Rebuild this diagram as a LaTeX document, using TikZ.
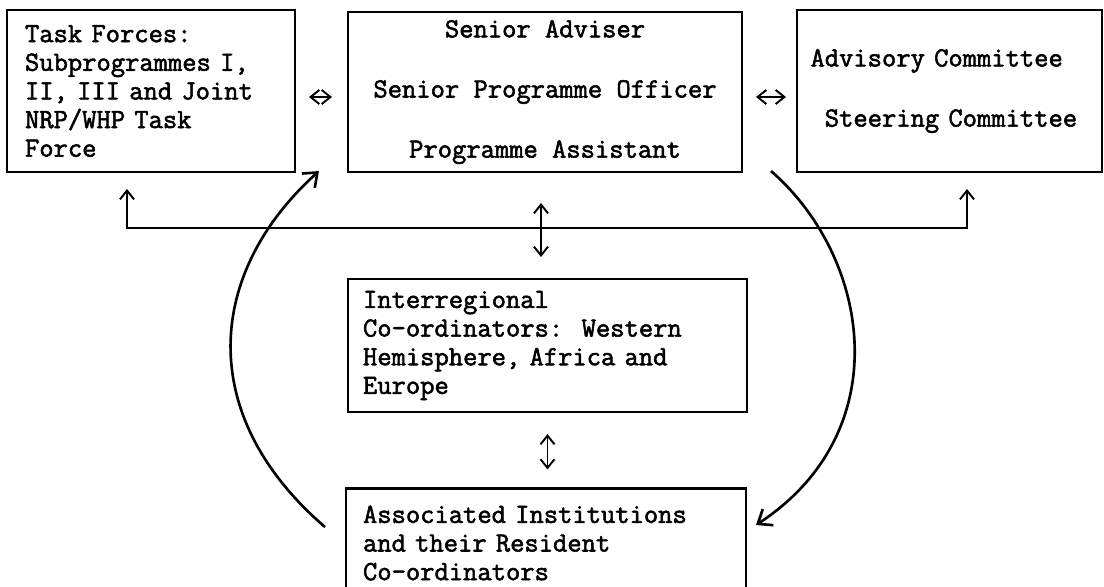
\documentclass[tikz,border=0pt]{standalone}
\usepackage{fontspec}
\setmonofont{Latin Modern Mono}[AutoFakeBold=2]
\usepackage{tikz}
\usetikzlibrary{arrows.meta,positioning}

\begin{document}
\begin{tikzpicture}[x=0.02cm,y=-0.02cm,
    box/.style={draw,line width=1.2pt,inner sep=0pt,
      font=\ttfamily\bfseries\fontsize{15.8}{16.3}\selectfont},
    link/.style={line width=1.1pt,{Straight Barb[length=5pt,width=8pt]}-{Straight Barb[length=5pt,width=8pt]}},
    loop/.style={line width=1.5pt,-{Straight Barb[length=7pt,width=11pt]}}]
      \useasboundingbox (0,0) rectangle (1104,586);
      \clip (0,0) rectangle (1104,586);
      \node[box,minimum width=5.76cm,minimum height=3.24cm,text width=5.04cm,align=left] (tasks) at (151,91)
        {Task Forces:\\Subprogrammes I,\\II, III and Joint\\NRP/WHP Task\\Force};
      \node[box,minimum width=7.88cm,minimum height=3.2cm,align=center] (staff) at (545,92)
        {Senior Adviser\\[0.63cm]Senior Programme Officer\\[0.63cm]Programme Assistant};
      \node[box,minimum width=6.1cm,minimum height=3.24cm,text width=5.56cm,align=left] (cttee) at (949.5,91)
        {Advisory Committee\\[0.63cm]\hphantom{S}Steering Committee};
      \node[box,minimum width=7.98cm,minimum height=2.66cm,text width=7.38cm,align=left] (interreg) at (547.5,345.5)
        {Interregional\\Co-ordinators:\ \ Western\\Hemisphere, Africa and\\Europe};
      \node[box,minimum width=8cm,minimum height=2.18cm,text width=7.32cm,align=left] (inst) at (546,543)
        {Associated Institutions\\and their Resident\\Co-ordinators};
      \coordinate (lvl) at (0,97);
      \coordinate (busL) at (127,228);
      \coordinate (busM) at (541,228);
      \coordinate (busR) at (967,228);
      \draw[link,shorten <=0.26cm,shorten >=0.3cm] (tasks.east |- lvl) -- (staff.west |- lvl);
      \draw[link,shorten <=0.26cm,shorten >=0.2cm] (staff.east |- lvl) -- (cttee.west |- lvl);
      \draw[link,shorten <=0.32cm,shorten >=0.32cm] (tasks.south -| busL) -- (busL) -- (busR) -- (cttee.south -| busR);
      \draw[link,shorten <=0.6cm,shorten >=0.42cm] (staff.south -| busM) -- (interreg.north -| busM);
      \draw[link,shorten <=0.42cm,shorten >=0.36cm] (interreg.south) -- (interreg.south |- inst.north);
      \draw[loop] ([xshift=-0.4cm,yshift=0.32cm]inst.west) .. controls +(-131,-113) and +(-112,101) .. ([xshift=-0.56cm,yshift=0.04cm]staff.south west);
      \draw[loop] ([xshift=0.56cm,yshift=0.04cm]staff.south east) .. controls +(100,87) and +(142,-93) .. ([xshift=0.18cm,yshift=0.36cm]inst.east);
    \end{tikzpicture}
\end{document}
